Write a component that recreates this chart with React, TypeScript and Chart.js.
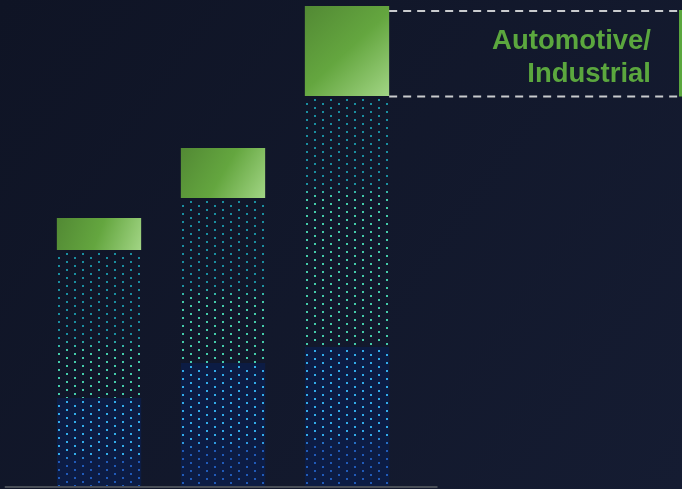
import React, { useEffect, useRef } from "react";
import { Chart, registerables } from "chart.js";

Chart.register(...registerables);

// ---- data ----
const categories = ["Period 1", "Period 2", "Period 3"];
const baseValues = [88, 123, 139];
const midValues = [148, 165, 251];
const autoValues = [32, 50, 90];
const yMax = 486;
const calloutTop = 475;
const calloutLines = ["Automotive/", "Industrial"];
const axisExtent = [-0.76, 2.73];

// ---- styles ----
const BAR_PCT = 0.68;
const NAVY_FILL = "#0c1c44";
const TEAL_DARK = [26, 142, 160];
const TEAL_MINT = [68, 204, 170];
const BLUE_LIGHT = [50, 172, 234];
const BLUE_DARK = [32, 90, 184];
const GREEN = "#5ba73e";

function mix(a: number[], b: number[], t: number) {
  const k = Math.max(0, Math.min(1, t));
  return `rgb(${Math.round(a[0] + (b[0] - a[0]) * k)},${Math.round(a[1] + (b[1] - a[1]) * k)},${Math.round(a[2] + (b[2] - a[2]) * k)})`;
}

function segmentRect(chart: any, datasetIndex: number, i: number) {
  const xs = chart.scales.x;
  const ys = chart.scales.y;
  const stacks = [baseValues, midValues, autoValues];
  let base = 0;
  for (let d = 0; d < datasetIndex; d++) base += stacks[d][i];
  const v = stacks[datasetIndex][i];
  const cx = xs.getPixelForValue(i);
  const w = (xs.width / categories.length) * BAR_PCT;
  const top = ys.getPixelForValue(base + v);
  const bottom = ys.getPixelForValue(base);
  return { left: cx - w / 2, top, width: w, height: bottom - top };
}

function dotPattern(chart: any, datasetIndex: number, i: number, bg: string | null, colorAt: (y: number, h: number) => string) {
  const r = segmentRect(chart, datasetIndex, i);
  const left = Math.round(r.left);
  const top = Math.round(r.top);
  const w = Math.max(1, Math.round(r.width) + 1);
  const h = Math.max(1, Math.round(r.height) + 1);
  const off = document.createElement("canvas");
  off.width = w;
  off.height = h;
  const c = off.getContext("2d")!;
  if (bg) {
    c.fillStyle = bg;
    c.fillRect(0, 0, w, h);
  }
  let row = 0;
  for (let y = 3; y < h - 1; y += 4, row++) {
    const x0 = row % 2 === 0 ? 9 : 1;
    for (let x = x0; x < w - 2; x += 16) {
      c.fillStyle = colorAt(y, h);
      c.fillRect(x, y, 2, 2);
    }
  }
  const p = chart.ctx.createPattern(off, "no-repeat")!;
  p.setTransform(new DOMMatrix([1, 0, 0, 1, left, top]));
  return p;
}

const bluePatternFill = (ctx: any) => {
  if (ctx.type !== "data" || !ctx.chart.chartArea) return NAVY_FILL;
  return dotPattern(ctx.chart, 0, ctx.dataIndex, NAVY_FILL, (y, h) => mix(BLUE_LIGHT, BLUE_DARK, (y / h - 0.62) / 0.08));
};

const tealPatternFill = (ctx: any) => {
  if (ctx.type !== "data" || !ctx.chart.chartArea) return "rgba(0,0,0,0)";
  return dotPattern(ctx.chart, 1, ctx.dataIndex, null, (y) => mix(TEAL_DARK, TEAL_MINT, (y - 86) / 14));
};

const greenFill = (ctx: any) => {
  if (ctx.type !== "data" || !ctx.chart.chartArea) return GREEN;
  const r = segmentRect(ctx.chart, 2, ctx.dataIndex);
  const g = ctx.chart.ctx.createLinearGradient(r.left, r.top, r.left + r.width, r.top + r.height);
  g.addColorStop(0, "#528934");
  g.addColorStop(0.5, "#64a63f");
  g.addColorStop(1, "#a2d585");
  return g;
};

const backgroundPlugin = {
  id: "pageBackground",
  beforeDraw(chart: any) {
    const { ctx, width, height } = chart;
    ctx.save();
    const g = ctx.createLinearGradient(0, 0, width, height);
    g.addColorStop(0, "#0f1425");
    g.addColorStop(1, "#151c32");
    ctx.fillStyle = g;
    ctx.fillRect(0, 0, width, height);
    ctx.restore();
  },
};

const decorPlugin = {
  id: "decor",
  afterDatasetsDraw(chart: any) {
    const { ctx, width, chartArea } = chart;
    const xs = chart.scales.x;
    const ys = chart.scales.y;
    ctx.save();
    // axis line
    ctx.strokeStyle = "#4a4f58";
    ctx.lineWidth = 2;
    ctx.beginPath();
    ctx.moveTo(xs.getPixelForValue(axisExtent[0]), chartArea.bottom + 1);
    ctx.lineTo(xs.getPixelForValue(axisExtent[1]), chartArea.bottom + 1);
    ctx.stroke();

    // callout band for last bar's top segment
    const last = categories.length - 1;
    const r = segmentRect(chart, 2, last);
    const yTop = Math.round(ys.getPixelForValue(calloutTop));
    const yBot = Math.round(r.top + r.height) + 0.5;
    const x0 = r.left + r.width;
    ctx.strokeStyle = "#c9cbce";
    ctx.lineWidth = 2;
    ctx.setLineDash([8, 6]);
    ctx.beginPath();
    ctx.moveTo(x0, yTop);
    ctx.lineTo(width, yTop);
    ctx.moveTo(x0, yBot);
    ctx.lineTo(width, yBot);
    ctx.stroke();
    ctx.setLineDash([]);

    // swatch
    ctx.fillStyle = GREEN;
    ctx.fillRect(width - 3, yTop - 1, 3, yBot - yTop + 1);

    // label
    ctx.fillStyle = GREEN;
    ctx.font = 'bold 27.5px "Liberation Sans", Arial, sans-serif';
    ctx.textAlign = "right";
    ctx.textBaseline = "alphabetic";
    calloutLines.forEach((line, k) => {
      ctx.fillText(line, width - 31, yTop + 38 + k * 33);
    });
    ctx.restore();
  },
};

export default function App() {
  const ref = useRef<HTMLCanvasElement | null>(null);
  useEffect(() => {
    if (!ref.current) return;
    const chart = new Chart(ref.current, {
      type: "bar",
      data: {
        labels: categories,
        datasets: [
          { label: "Base", data: baseValues, backgroundColor: bluePatternFill as any },
          { label: "Growth", data: midValues, backgroundColor: tealPatternFill as any },
          { label: calloutLines.join(""), data: autoValues, backgroundColor: greenFill as any },
        ],
      },
      options: {
        animation: false,
        responsive: true,
        maintainAspectRatio: false,
        events: [],
        layout: { padding: { left: 37, right: 273, top: 0, bottom: 3 } },
        datasets: { bar: { barPercentage: BAR_PCT, categoryPercentage: 1, borderWidth: 0, inflateAmount: 0 } } as any,
        scales: {
          x: { stacked: true, display: false, offset: true },
          y: { stacked: true, display: false, min: 0, max: yMax },
        },
        plugins: { legend: { display: false }, tooltip: { enabled: false } },
      },
      plugins: [backgroundPlugin, decorPlugin],
    });
    return () => chart.destroy();
  }, []);
  return (
    <div style={{ position: "fixed", left: 0, top: 0, width: 682, height: 489 }}>
      <canvas ref={ref} />
    </div>
  );
}
